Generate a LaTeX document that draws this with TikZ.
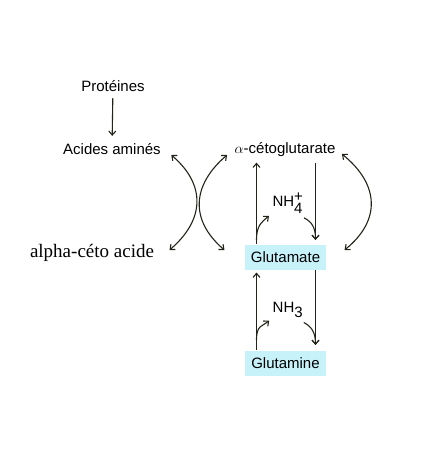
\documentclass[tikz,border=0pt]{standalone}
\usepackage{fontspec}
\setmainfont{Liberation Serif}
\setsansfont{Liberation Sans}
\usetikzlibrary{arrows.meta}
\definecolor{boxcyan}{RGB}{200,242,250}
\definecolor{linecol}{RGB}{35,35,25}

\begin{document}
\begin{tikzpicture}[x=1pt,y=-1pt,line width=1.1pt,
  >={Straight Barb[length=4pt,width=7pt]},
  arr/.style={->,linecol},
  dbl/.style={<->,linecol},
  lbl/.style={font=\sffamily\fontsize{15}{18}\selectfont,inner sep=2pt},
  molbox/.style={lbl,fill=boxcyan,minimum width=81pt,minimum height=25pt,inner sep=0pt}]
  \useasboundingbox (0,0) rectangle (429,467);

  % left column
  \node[lbl] (prot) at (113,86) {Protéines};
  \node[lbl] (aa) at (112,149) {Acides aminés};
  \node[font=\fontsize{19}{22}\selectfont,inner sep=2pt] (keto) at (92,253) {alpha-céto acide};

  % right column
  \node[lbl] (cetog) at (285,150) {$\alpha$-cétoglutarate};
  \node[molbox] (glu) at (285.5,257) {Glutamate};
  \node[molbox] (gln) at (285.5,363) {Glutamine};
  \node[lbl] (nh4) at (288,203) {NH$_{\textsf{4}}^{\textsf{+}}$};
  \node[lbl] (nh3) at (288,310) {NH$_{\textsf{3}}$};

  \draw[arr,shorten <=4pt,shorten >=5pt] (prot) -- (aa);

  % transamination
  \draw[dbl] ([shift={(8,6)}]aa.east) .. controls +(35,30) and +(35,-30) .. ([shift={(13,-3)}]keto.east);
  \draw[dbl] ([shift={(-5,5)}]cetog.west) .. controls +(-35,30) and +(-35,-30) .. ([shift={(-20,-7)}]glu.west);
  \draw[dbl] ([shift={(4,4)}]cetog.east) .. controls +(37,30) and +(37,-30) .. ([shift={(18,-7)}]glu.east);

  % glutamate <-> alpha-cetoglutarate
  \draw[arr,shorten >=3pt] ([xshift=-29pt]glu.north) -- ([xshift=-29pt]glu.north |- cetog.south);
  \draw[arr,shorten <=3pt,shorten >=4pt] ([xshift=30pt]glu.north |- cetog.south) -- ([xshift=30pt]glu.north);
  \draw[arr] ([shift={(-29,-4)}]glu.north) .. controls +(0,-15) and +(-7,6) .. ([shift={(-1,0)}]nh4.south west);
  \draw[arr] ([shift={(-2,2)}]nh4.south east) .. controls +(8,4) and +(0,-12) .. ([shift={(30,-4)}]glu.north);

  % glutamine <-> glutamate
  \draw[arr,shorten >=2.5pt] ([xshift=-29pt]gln.north) -- ([xshift=-29pt]glu.south);
  \draw[arr,shorten >=5pt] ([xshift=30pt]glu.south) -- ([xshift=30pt]gln.north);
  \draw[arr] ([shift={(-29,-10)}]gln.north) .. controls +(0,-15) and +(-7,6) .. ([shift={(-1,0)}]nh3.south west);
  \draw[arr] ([shift={(-2,2)}]nh3.south east) .. controls +(8,4) and +(0,-12) .. ([shift={(30,-5)}]gln.north);
\end{tikzpicture}
\end{document}
